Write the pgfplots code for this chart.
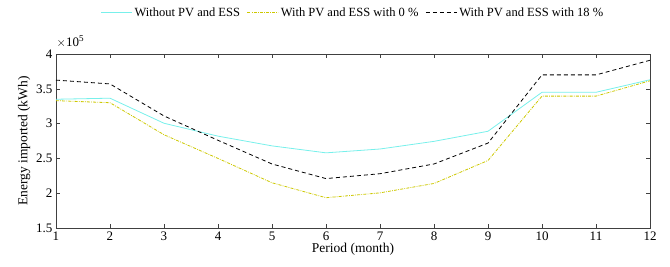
\documentclass[border=0pt]{standalone}
\usepackage{fontspec}
\setmainfont{Liberation Serif}
\usepackage{pgfplots}
\pgfplotsset{compat=1.18}
\definecolor{cyanl}{RGB}{120,240,235}
\definecolor{yel}{RGB}{205,200,0}
\begin{document}
\begin{tikzpicture}
\begin{axis}[
  name=ax,
  scale only axis,
  width=594pt, height=174pt,
  xmin=1, xmax=12, ymin=150000, ymax=400000,
  xtick={1,...,12},
  xticklabels={1,2,3,4,5,6,7,8,9,10,11,12},
  ytick={150000,200000,250000,300000,350000,400000},
  yticklabels={1.5,2,2.5,3,3.5,4},
  scaled y ticks=false,
  tick align=inside,
  tick pos=both,
  major tick length=4pt,
  axis line style={line width=0.6pt, black!75},
  every tick/.style={black!75, line width=0.5pt},
  ticklabel style={font=\fontsize{13}{14}\selectfont},
  xlabel={Period (month)},
  ylabel={Energy imported (kWh)},
  label style={font=\fontsize{13.5}{15}\selectfont},
  xlabel style={yshift=4pt},
  ylabel style={yshift=-1pt},
  title={$\times$10\textsuperscript{5}},
  title style={at={(rel axis cs:0,1)}, anchor=south west, inner sep=0.5pt, font=\fontsize{13}{14}\selectfont},
  legend style={at={(0.5,1)}, anchor=south, yshift=32pt, draw=none, fill=none,
    font=\fontsize{12.5}{14}\selectfont, legend columns=-1,
    /tikz/every even column/.append style={column sep=5pt}},
  legend cell align=left,
  legend image code/.code={\draw[#1] (0pt,0pt) -- (31pt,0pt);},
]
\addplot[cyanl, line width=0.8pt] coordinates {
(1,335000) (2,336500) (3,300500) (4,282000) (5,268000) (6,258000)
(7,263500) (8,274500) (9,289000) (10,345000) (11,345000) (12,363000)};
\addlegendentry{Without PV and ESS}
\addplot[yel, line width=0.8pt, dash pattern=on 3pt off 1.2pt on 0.8pt off 1.2pt] coordinates {
(1,333000) (2,330000) (3,284000) (4,250000) (5,215000) (6,193500)
(7,200500) (8,214000) (9,247000) (10,339500) (11,339500) (12,361500)};
\addlegendentry{With PV and ESS with 0 \%}
\addplot[black, line width=0.8pt, dash pattern=on 4pt off 3pt] coordinates {
(1,362500) (2,357000) (3,311000) (4,276000) (5,242000) (6,221000)
(7,228000) (8,242000) (9,272000) (10,370000) (11,370000) (12,391000)};
\addlegendentry{With PV and ESS with 18 \%}
\end{axis}
\pgfresetboundingbox
\useasboundingbox ([xshift=-56pt,yshift=-38pt]ax.south west) rectangle ([xshift=20pt,yshift=54pt]ax.north east);
\end{tikzpicture}
\end{document}
